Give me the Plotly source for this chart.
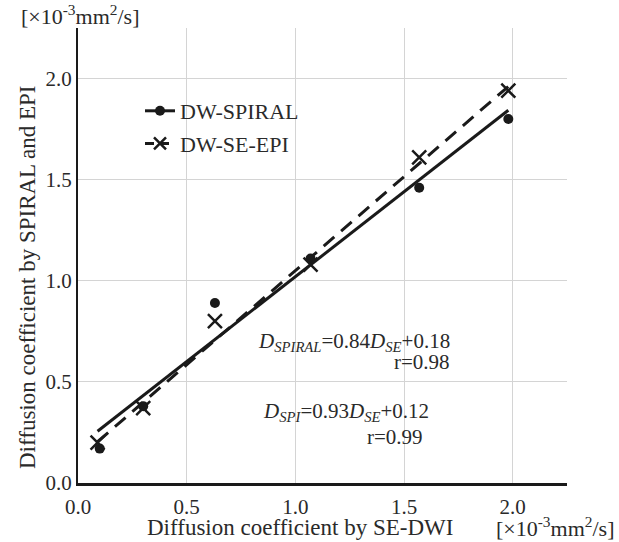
import plotly.graph_objects as go

# values
se_dwi = [0.10, 0.30, 0.63, 1.07, 1.57, 1.98]
spiral = [0.17, 0.38, 0.89, 1.11, 1.46, 1.80]
epi_x = [0.09, 0.30, 0.63, 1.07, 1.57, 1.98]
epi = [0.20, 0.37, 0.80, 1.08, 1.61, 1.94]

# regression lines (end points)
spiral_fit_x = [0.09, 1.98]
spiral_fit_y = [0.256, 1.843]
epi_fit_x = [0.09, 1.98]
epi_fit_y = [0.204, 1.961]

ticks = [0.0, 0.5, 1.0, 1.5, 2.0]
tick_text = ["0.0", "0.5", "1.0", "1.5", "2.0"]

FONT = "Liberation Serif, Times New Roman, serif"
INK = "#1a1a1a"
TXT = "#2a2a2a"
UNIT = "[×10<sup>-3</sup>mm<sup>2</sup>/s]"

# plot area in pixels
L, R, T, B = 78, 567, 28, 483
W, H = R - L, B - T


def px(x, y):
    return (x - L) / W, (B - y) / H


fig = go.Figure()

fig.add_trace(go.Scatter(x=spiral_fit_x, y=spiral_fit_y, mode="lines",
                         line=dict(color=INK, width=3), showlegend=False))
fig.add_trace(go.Scatter(x=epi_fit_x, y=epi_fit_y, mode="lines",
                         line=dict(color=INK, width=3, dash="14px,9px"), showlegend=False))
fig.add_trace(go.Scatter(x=se_dwi, y=spiral, mode="markers",
                         marker=dict(symbol="circle", size=10, color=INK), showlegend=False))
fig.add_trace(go.Scatter(x=epi_x, y=epi, mode="markers",
                         marker=dict(symbol="x-thin-open", size=14, color=INK,
                                     line=dict(color=INK, width=2.5)), showlegend=False))

# legend entries
fig.add_trace(go.Scatter(x=[None], y=[None], mode="lines+markers", name="DW-SPIRAL",
                         legendgroup="a",
                         line=dict(color=INK, width=3),
                         marker=dict(symbol="circle", size=10, color=INK)))
fig.add_trace(go.Scatter(x=[None], y=[None], mode="lines+markers", name="DW-SE-EPI",
                         legendgroup="b",
                         line=dict(color=INK, width=3, dash="9px,6px"),
                         marker=dict(symbol="x-thin-open", size=12, color=INK,
                                     line=dict(color=INK, width=2.5))))

lx, ly = px(140, 90)
fig.update_layout(
    width=619, height=542,
    margin=dict(l=L, r=619 - R, t=T, b=542 - B, autoexpand=False),
    plot_bgcolor="white", paper_bgcolor="white",
    font=dict(family=FONT, size=21, color=TXT),
    legend=dict(x=lx, y=ly, xanchor="left", yanchor="top",
                bgcolor="rgba(0,0,0,0)", traceorder="grouped",
                tracegroupgap=1, font=dict(size=22, color=TXT)),
)

fig.update_xaxes(range=[0, 2.25], tickvals=ticks, ticktext=tick_text,
                 showgrid=True, gridcolor="#d4d4d4", gridwidth=1,
                 showline=True, linecolor=INK, linewidth=2.5, automargin=False,
                 zeroline=False, ticks="", ticklabelstandoff=3)
fig.update_yaxes(range=[0, 2.25], tickvals=ticks, ticktext=tick_text,
                 showgrid=True, gridcolor="#d4d4d4", gridwidth=1,
                 showline=True, linecolor=INK, linewidth=2, automargin=False,
                 zeroline=False, ticks="", ticklabelstandoff=0)


def note(x, y, text, size=21, xanchor="center", **kw):
    ax, ay = px(x, y)
    fig.add_annotation(xref="paper", yref="paper", x=ax, y=ay, text=text, showarrow=False,
                       xanchor=xanchor, yanchor="middle",
                       font=dict(family=FONT, size=size, color=TXT), **kw)


note(300, 527, "Diffusion coefficient by SE-DWI", size=23)
note(27, 277, "Diffusion coefficient by SPIRAL and EPI", size=23, textangle=-90)
note(19, 15, UNIT, size=22, xanchor="left")
note(617, 527, UNIT, size=22, xanchor="right")

# regression equations
note(452, 342, "<i>D</i><sub><i>SPIRAL</i></sub>=0.84<i>D</i><sub><i>SE</i></sub>+0.18", xanchor="right")
note(452, 362, "r=0.98", xanchor="right")
note(431, 412, "<i>D</i><sub><i>SPI</i></sub>=0.93<i>D</i><sub><i>SE</i></sub>+0.12", xanchor="right")
note(425, 437, "r=0.99", xanchor="right")

# the page body has a default margin; drop it so the figure sits at 0,0
fig.write_html("out.html", config={"displayModeBar": False},
               post_script="document.body.style.margin='0';")
